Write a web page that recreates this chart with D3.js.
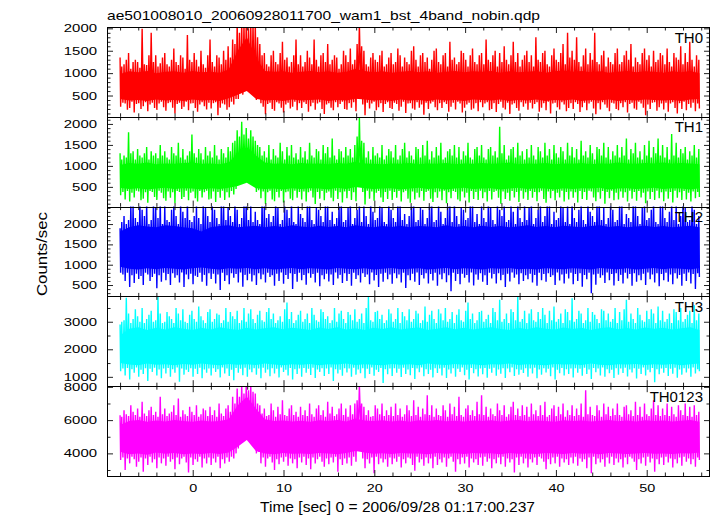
<!DOCTYPE html>
<html><head><meta charset="utf-8">
<script src="https://cdn.jsdelivr.net/npm/d3@7"></script>
<style>body{margin:0;background:#fff}svg{display:block}text{font-family:"Liberation Sans",Arial,Helvetica,sans-serif}</style>
</head><body><svg id="c" width="717" height="516"></svg>
<script>
// ---------- data (counts/sec) ----------
const titleText = "ae501008010_20060928011700_wam1_bst_4band_nobin.qdp";
const xLabel = "Time [sec] 0 = 2006/09/28 01:17:00.237";
const yLabel = "Counts/sec";
const panelNames = ["TH0", "TH1", "TH2", "TH3", "TH0123"];
const panelColors = ["#ff0000", "#00ff00", "#0000ff", "#00ffff", "#ff00ff"];
const yDomains = [[25, 2030], [30, 2170], [220, 2430], [660, 3920], [2640, 8040]];
const yTickLabels = [[500, 1000, 1500, 2000], [500, 1000, 1500, 2000], [500, 1000, 1500, 2000], [1000, 2000, 3000], [4000, 6000, 8000]];
const yMinorTicks = [
  [100,200,300,400,600,700,800,900,1100,1200,1300,1400,1600,1700,1800,1900],
  [100,200,300,400,600,700,800,900,1100,1200,1300,1400,1600,1700,1800,1900,2100],
  [300,400,600,700,800,900,1100,1200,1300,1400,1600,1700,1800,1900,2100,2200,2300,2400],
  [1500,2500,3500],
  [3000,5000,7000]
];
const xTickLabels = [0, 10, 20, 30, 40, 50];
const xMinorTicks = [-8,-6,-4,-2,2,4,6,8,12,14,16,18,22,24,26,28,32,34,36,38,42,44,46,48,52,54,56];
const timeStart = -8, timeEnd = 55.8;
const xDomain = [-9.44, 56.97];

// core band (1 s bins): upper / lower edge of the dense part
const th0CoreHi = [980,1040,1020,1050,1000,1030,1040,1010,1050,1020, 1030,1010,1080,1500,1800,1350,1050,1030,1040,1010, 1030,1050,1020,1040,1010,1030,1100,1050,1020,1040, 1010,1030,1050,1020,1040,1010,1030,1050,1020,1040, 1030,1050,1010,1040,1020,1030,1050,1010,1040,1060, 1030,1050,1020,1040,1010,1030,1050,1020,1040,1030, 1010,1040,1020,1050,1000];
const th0CoreLo = [420,390,400,380,410,390,400,380,410,390, 400,380,440,520,600,430,390,400,380,410, 390,400,410,380,400,390,430,410,390,400, 380,410,390,400,380,410,390,400,380,410, 400,390,410,380,400,390,410,380,400,390, 410,380,400,390,410,380,400,390,410,400, 390,400,380,410,420];
const th1CoreHi = [1020,1070,1050,1080,1040,1060,1050,1070,1080,1050, 1060,1040,1080,1300,1450,1250,1080,1050,1060,1040, 1070,1050,1060,1040,1070,1050,1100,1060,1050,1040, 1060,1050,1070,1040,1060,1050,1070,1040,1060,1050, 1070,1050,1060,1080,1040,1060,1050,1070,1040,1060, 1050,1070,1040,1060,1050,1080,1060,1050,1070,1060, 1080,1050,1070,1060,1040];
const th1CoreLo = [480,450,470,440,460,480,450,470,460,440, 470,450,480,520,600,470,450,460,440,470, 450,470,460,440,480,450,500,470,450,460, 470,440,460,480,450,470,440,460,480,450, 460,470,440,460,480,450,470,460,440,470, 450,470,460,480,440,460,470,450,460,480, 450,470,460,440,470];
const th2CoreHi = [1820,1920,1970,1940,1920,1970,1950,1920,1900,1820, 1920,1950,1970,1920,1940,1960,1920,1950,1930,1970, 1940,1920,1960,1930,1950,1920,1970,1940,1920,1950, 1930,1960,1920,1950,1940,1920,1970,1930,1950,1920, 1960,1930,1950,1920,1940,1970,1930,1950,1920,1960, 1940,1920,1950,1970,1930,1950,1920,1940,1960,1930, 1950,1920,1940,1960,1920];
const th2CoreLo = [950,900,880,910,890,920,900,880,910,930, 900,880,910,900,920,890,910,880,900,920, 890,910,900,880,920,900,890,910,880,900, 920,890,900,910,880,900,920,890,910,900, 880,910,900,920,890,900,880,910,900,890, 910,900,880,920,900,890,910,880,900,920, 890,910,900,880,920];
const th3CoreHi = [2500,2750,2800,2700,2780,2720,2800,2750,2700,2780, 2720,2800,2750,2700,2780,2720,2760,2800,2730,2780, 2750,2700,2790,2740,2800,2720,2760,2700,2780,2740, 2800,2720,2760,2790,2700,2750,2800,2730,2780,2720, 2760,2800,2740,2700,2780,2730,2800,2750,2720,2790, 2740,2780,2700,2760,2800,2730,2770,2720,2790,2750, 2780,2720,2760,2800,2700];
const th3CoreLo = [1500,1450,1420,1480,1440,1460,1420,1470,1440,1480, 1450,1420,1470,1440,1460,1430,1480,1450,1420,1460, 1440,1470,1420,1460,1450,1480,1430,1460,1440,1420, 1470,1440,1460,1420,1480,1450,1430,1470,1440,1460, 1420,1460,1450,1480,1430,1460,1440,1420,1470,1450, 1460,1430,1480,1440,1420,1460,1450,1470,1430,1460, 1440,1470,1420,1460,1480];
const th0123CoreHi = [5700,5950,6000,5900,5980,5920,6000,5950,5900,5980, 5920,5950,6050,6900,7400,6700,6050,5950,5980,5920, 5960,5900,5990,5940,6000,5920,6100,5980,5940,5990, 5920,5970,5900,5990,5940,6000,5930,5960,5910,5980, 5950,5990,5920,5970,6000,5930,5980,5940,5900,5990, 5940,5980,5920,5960,6000,5930,5970,5910,5990,5950, 5980,5920,5960,6000,5900];
const th0123CoreLo = [4100,3950,4000,3920,4050,3980,4020,3950,4000,3970, 4030,3960,4050,4400,4800,4150,4000,3950,4020,3980, 4000,3960,4030,3990,3950,4020,4150,4050,3980,4010, 3960,4030,3990,4000,3950,4020,3980,4010,3960,4030, 3990,4010,3950,4020,3980,4000,3960,4030,3990,3970, 4020,3980,4010,3950,4030,3990,3960,4000,4020,3980, 4000,3970,4010,3990,4050];

// extremes (0.25 s bins): max / min of each bin
const th0PeakHi = [
1350,1150,1200,1300,1450,1100,1250,1300,1250,1120,1990,1200,1180,1400,1900,1250,1400,1150,1220,1350,
1450,1200,1150,1300,1550,1250,1180,1400,1350,1100,1850,1300,1250,1450,1300,1150,1500,1200,1120,1400,
1750,1250,1150,1400,1350,1200,1500,1300,1600,1350,1750,1650,2100,1900,2100,2100,2100,2000,2100,2100,
2100,1800,1650,1400,1450,1200,1150,1400,1500,1250,1200,1450,1700,1300,1350,1150,1250,1400,1750,1200,
1400,1150,1250,1500,1350,1200,1750,1300,1150,1400,1450,1250,1650,1200,1300,1400,1350,1100,1200,1500,
1400,1250,1550,1200,1300,1650,2100,1600,1500,1200,1150,1350,1450,1300,1250,1400,1500,1150,1200,1350,
1450,1200,1250,1550,1400,1150,1350,1250,1200,1500,1600,1300,1150,1400,1450,1250,1350,1100,1300,1500,
1550,1250,1200,1400,1450,1150,1700,1300,1350,1200,1250,1500,1450,1300,1150,1400,1550,1250,1200,1400,
1450,1200,1750,1300,1250,1400,1500,1150,1450,1250,1600,1300,1200,1400,1700,1250,1450,1150,1300,1400,
1500,1250,1400,1150,1800,1300,1250,1450,1500,1200,1150,1400,1550,1300,1250,1450,1650,1200,1900,1350,
1500,1300,1800,1250,1150,1400,1550,1200,1450,1300,1900,1250,1200,1400,1500,1150,1350,1250,1200,1450,
1550,1200,1250,1400,1500,1300,1650,1150,1350,1250,1200,1450,1550,1300,1400,1150,1500,1250,1300,1450,
1400,1200,1550,1250,1150,1450,1350,1300,1600,1200,1450,1250,1700,1300,1150,1400,1300];
const th0PeakLo = [
250,340,320,180,220,360,120,310,330,200,260,350,150,300,340,220,180,320,360,240,
160,330,350,230,100,310,340,200,250,360,170,320,330,220,140,300,350,260,190,340,
210,330,350,60,230,320,300,180,240,360,300,420,420,550,520,620,600,680,580,520,
400,450,330,250,80,310,340,200,160,350,320,230,120,300,340,210,250,360,170,330,
220,350,310,140,260,340,180,320,350,200,90,300,330,230,170,350,240,310,360,200,
180,330,230,350,150,600,830,300,60,340,210,320,360,170,240,330,130,310,350,220,
200,340,310,160,250,360,110,320,330,210,180,350,230,300,70,340,200,320,360,240,
170,330,220,350,310,140,250,340,190,360,320,120,230,300,340,180,210,330,150,350,
240,320,350,170,200,330,130,310,360,230,190,340,90,300,330,220,160,350,250,320,
180,340,210,310,350,140,230,330,170,360,100,320,340,240,190,350,300,150,220,330,
200,350,310,130,240,340,170,320,360,210,80,330,190,350,300,230,150,340,320,200,
170,330,240,350,120,310,340,210,180,360,320,230,60,300,200,340,350,160,240,320,
190,340,140,320,350,220,100,330,200,360,170,310,230,340,150,320,210];

const th1PeakHi = [
1300,1150,1250,1200,1800,1300,1350,1150,1400,1250,1200,1300,1450,1150,1350,1250,1300,1180,1500,1250,
1350,1200,1150,1450,1300,1250,1550,1200,1400,1150,1250,1350,1750,1300,1200,1400,1300,1150,1450,1250,
1350,1200,1500,1250,1150,1400,1300,1200,1450,1350,1550,1600,1850,1700,2050,1750,1900,1650,1850,1700,
1600,1500,1450,1250,1350,1200,1500,1150,1400,1250,1200,1550,1350,1150,1450,1250,1500,1200,1300,1150,
1450,1200,1350,1150,1550,1250,1200,1400,1350,1150,1500,1300,1450,1200,1650,1250,1150,1400,1350,1200,
1450,1250,1400,1200,1500,1700,2150,1600,1550,1200,1350,1150,1450,1250,1300,1200,1500,1150,1250,1400,
1350,1200,1500,1150,1250,1400,1550,1200,1350,1250,1150,1450,1400,1200,1500,1250,1600,1150,1350,1200,
1450,1250,1550,1150,1200,1350,1400,1250,1500,1200,1450,1150,1350,1250,1550,1200,1150,1400,1450,1250,
1500,1200,1150,1400,1450,1250,1350,1200,1930,1300,1500,1150,1250,1400,1450,1200,1550,1250,1350,1150,
1400,1200,1500,1250,1150,1450,1350,1200,1550,1250,1400,1150,1500,1300,1200,1450,1350,1150,1550,1250,
1450,1200,1400,1150,1600,1250,1350,1200,1500,1300,1150,1450,1400,1250,1550,1200,1450,1150,1350,1250,
1500,1200,1450,1250,1650,1150,1400,1300,1550,1200,1350,1150,1500,1250,1600,1200,1450,1300,1650,1250,
1500,1200,1450,1150,1760,1250,1550,1200,1400,1300,1450,1150,1350,1250,1500,1200,1400];
const th1PeakLo = [
300,380,200,400,150,360,250,410,390,180,220,370,120,400,380,260,190,410,360,230,
170,390,240,370,110,400,380,210,260,410,180,360,390,230,150,400,250,370,410,200,
220,390,140,380,240,410,190,370,250,400,320,450,550,620,650,720,700,760,600,550,
380,420,230,390,100,370,410,200,160,380,250,400,130,370,390,220,180,410,240,380,
200,390,150,370,410,250,90,380,220,400,180,360,390,240,160,410,210,370,130,390,
230,400,190,370,160,600,790,380,80,410,220,390,170,360,400,250,140,380,210,410,
190,380,240,400,150,370,410,220,120,390,200,360,250,400,170,380,410,220,140,370,
240,390,180,410,110,370,230,400,380,200,160,390,250,360,130,400,210,380,190,410,
230,370,150,400,200,380,410,240,100,390,210,360,170,400,250,380,140,410,220,370,
190,400,240,380,160,370,410,210,120,390,230,400,180,360,250,410,150,380,200,390,
240,370,130,400,210,380,190,410,390,250,160,370,220,400,100,380,230,410,180,360,
200,390,240,370,150,410,220,380,170,400,250,360,110,390,210,380,190,410,230,370,
160,390,220,380,130,410,240,370,190,400,200,360,150,390,230,380,260];

const th2PeakHi = [
1900,2050,2200,2000,2100,2500,2450,2150,2050,2600,2350,2200,2500,2000,2100,2550,2400,2150,2600,2000,
2450,2100,2050,2350,2550,2200,2000,2500,2300,2150,2600,2100,2050,2200,2450,2150,2000,2550,2400,2200,
2050,2500,2350,2150,2000,2600,2450,2100,2400,2200,2050,2550,2350,2000,2150,2500,2600,2100,2450,2050,
2300,2100,2000,2550,2450,2150,2250,2050,2200,2600,2400,2000,2100,2500,2350,2150,2550,2050,2000,2450,
2250,2150,2050,2500,2600,2100,2000,2400,2350,2200,2050,2550,2450,2100,2300,2000,2150,2500,2600,2050,
2100,2400,2550,2000,2150,2350,2500,2050,2450,2200,2000,2600,2300,2100,2150,2500,2400,2050,2000,2550,
2350,2150,2050,2600,2450,2100,2250,2000,2200,2500,2550,2050,2100,2400,2350,2000,2150,2600,2450,2050,
2100,2500,2300,2000,2150,2550,2450,2050,2600,2200,2000,2400,2350,2100,2150,2500,2550,2050,2250,2000,
2450,2150,2050,2600,2400,2100,2000,2500,2350,2200,2550,2050,2100,2450,2300,2000,2600,2150,2050,2500,
2100,2400,2550,2000,2150,2350,2500,2050,2200,2600,2450,2000,2300,2100,2150,2550,2400,2050,2500,2000,
2600,2150,2050,2350,2450,2100,2000,2550,2300,2200,2050,2500,2600,2100,2400,2000,2150,2450,2350,2050,
2100,2550,2450,2000,2250,2150,2050,2600,2500,2200,2000,2400,2550,2100,2150,2350,2600,2050,2000,2450,
2500,2150,2050,2300,2550,2100,2450,2000,2200,2600,2400,2050,2100,2500,2350,2000,2200];
const th2PeakLo = [
800,760,600,800,450,740,550,780,650,720,500,800,760,600,700,780,420,740,580,800,
620,770,500,790,680,740,560,810,450,760,640,780,520,730,700,800,580,750,480,790,
650,780,540,760,380,800,600,740,520,790,680,770,560,810,460,750,620,780,590,740,
500,790,640,760,560,800,700,740,480,780,600,810,530,750,650,790,400,770,580,800,
620,750,510,790,680,770,560,800,470,740,640,780,590,760,500,810,660,750,550,790,
600,770,480,800,650,740,560,790,700,760,520,810,610,750,450,780,580,800,640,760,
530,790,670,760,560,800,430,740,620,780,580,810,500,750,660,790,540,770,610,800,
480,760,640,790,570,740,350,800,600,770,520,780,680,750,560,810,490,760,630,790,
580,740,500,800,660,770,540,790,620,750,450,780,590,810,680,760,520,790,600,740,
640,780,560,750,480,800,620,770,580,790,700,740,500,810,610,760,540,780,660,800,
520,770,600,790,460,750,640,800,300,760,510,780,680,740,550,810,620,770,490,790,
600,750,540,800,660,770,480,790,580,740,620,780,500,810,640,760,560,790,470,770,
620,800,580,760,520,790,660,750,480,780,600,810,540,770,400,790,700];

const th3PeakHi = [
2900,3000,3050,3870,3300,2950,3100,3450,3200,3000,3500,2950,3100,3250,3400,3000,3050,3900,3300,2950,
3000,3350,3200,3100,2950,3500,3300,3050,3450,3000,2950,3250,3400,3100,3000,3550,3200,3050,2950,3350,
3450,3000,3100,3300,3250,2950,3050,3500,3000,3350,3200,3100,3400,2950,3050,3500,3000,3300,3450,3100,
2950,3250,3400,3050,3000,3350,3500,3100,3300,2950,3050,3200,3000,3450,3700,3100,3350,2950,3050,3250,
3400,3000,3100,3300,2950,3500,3250,3050,3000,3450,3350,3100,3200,2950,3050,3500,3000,3300,3400,3100,
2950,3350,3250,3050,3450,3000,3100,3300,2950,3500,3920,3050,3000,3350,3400,3100,3250,2950,3050,3450,
3300,3000,3100,3500,2950,3350,3200,3050,3450,3000,3100,3400,3300,2950,3050,3550,3000,3250,3400,3100,
2950,3450,3300,3050,3500,3000,3100,3350,2950,3250,3450,3050,3000,3400,3700,3100,3300,2950,3050,3350,
3400,3000,3100,3250,2950,3500,3350,3050,3800,3000,3100,3300,2950,3450,3350,3050,3920,3000,3100,3400,
2950,3300,3450,3050,3000,3350,3100,3500,3250,2950,3400,3050,3550,3000,3100,3300,2950,3450,3350,3050,
3850,3000,3100,3400,3300,2950,3050,3500,3000,3350,3250,3100,2950,3450,3400,3050,3300,3000,3100,3500,
2950,3350,3050,3450,3800,3000,3300,3100,2950,3500,3250,3050,3000,3400,3100,3450,3300,2950,3550,3050,
3400,3000,3100,3300,2950,3450,3350,3050,3500,3000,3100,3250,3400,2950,3600,3050,3300];
const th3PeakLo = [
1200,1300,1050,1320,900,1280,1150,1340,1000,1260,1100,1310,850,1290,1180,1330,1050,1270,950,1300,
1120,1320,1000,1280,1150,1340,820,1300,1080,1260,1180,1310,1000,1290,1100,1330,950,1270,1150,1300,
1050,1310,1180,1280,980,1340,1120,1300,1030,1260,880,1320,1150,1290,1060,1330,1000,1270,1170,1310,
1080,1300,950,1330,1150,1270,1020,1310,1120,1290,980,1340,1180,1260,1050,1320,900,1280,1100,1300,
1000,1320,1150,1290,1070,1330,960,1270,1180,1310,1030,1300,1100,1340,850,1280,1120,1260,1040,1310,
1160,1300,1000,1330,1080,1270,1130,1310,950,1290,1100,1340,1040,1260,1180,1320,780,1280,1090,1300,
1030,1310,1150,1290,990,1330,1100,1270,1060,1320,920,1300,1170,1340,1020,1280,1100,1260,980,1310,
1140,1300,1050,1330,960,1270,1120,1310,1000,1290,1180,1340,1060,1260,900,1320,1130,1280,1010,1300,
1090,1320,970,1290,1150,1330,1040,1270,1110,1310,960,1300,1170,1340,1030,1280,1080,1260,1140,1310,
1000,1300,1120,1330,950,1270,1080,1310,1160,1290,1020,1340,900,1260,1130,1320,1050,1280,1100,1300,
980,1310,1150,1290,1040,1330,1100,1270,920,1320,1170,1300,1050,1340,1000,1280,1130,1260,960,1310,
1080,1300,1140,1330,1010,1270,1160,1310,940,1290,1100,1340,1050,1260,1170,1320,800,1280,1090,1300,
1150,1320,1030,1290,1110,1330,970,1270,1080,1310,1160,1300,1000,1340,1120,1280,1200];

const th0123PeakHi = [
6300,6200,6600,6350,6250,6900,6500,6300,6700,6200,7100,6400,6250,6600,6800,6300,6500,6200,7400,6350,
6700,6250,6400,6500,6900,6300,7300,6200,6600,6350,6250,6800,6500,6300,6900,6200,6350,6700,6600,6250,
6800,6300,6600,6200,7000,6400,6250,6700,6900,6500,7400,7000,7900,7400,8100,7600,8100,7800,8100,7700,
7600,7000,6900,6400,6700,6250,6300,7000,6600,6200,6800,6350,7200,6300,6250,6700,6900,6300,6500,6200,
6800,6300,6600,6250,7000,6350,6200,6700,6900,6300,6600,6200,7100,6400,6800,6250,6350,6700,7000,6300,
6700,6200,6900,6350,7000,7200,8100,7000,6800,6300,6600,6200,6250,6900,6700,6350,7000,6250,6600,6300,
6800,6250,7000,6300,6700,6200,6350,6900,6600,6250,7200,6300,6800,6200,6700,6350,7500,6300,6900,6200,
6700,6300,6250,6900,6600,6200,7000,6350,6800,6250,7400,6300,6200,6700,6900,6300,6600,6250,7100,6350,
7500,6300,6800,6200,6700,6350,6250,7000,6600,6300,6900,6200,6350,6800,7100,6300,6700,6250,6900,6300,
6800,6200,7000,6350,6600,6250,6900,6300,7100,6200,6300,6700,6900,6250,6800,6350,7000,6200,6600,6300,
6900,6250,6700,6300,7000,6200,7800,6350,6800,6300,6250,6900,6600,6200,7000,6350,6800,6250,6700,6300,
7000,6300,6200,6800,6900,6350,6600,6250,7100,6300,6800,6200,7000,6350,6250,6700,7200,6300,6900,6250,
6700,6300,7000,6250,6800,6350,6200,6900,6600,6300,7000,6250,6800,6200,6900,6300,6500];
const th0123PeakLo = [
3600,3750,3000,3700,3400,3800,3650,3200,3500,3750,2900,3700,3300,3800,3450,3650,3100,3750,3400,3700,
3250,3800,3500,3650,3050,3750,3350,3700,3800,3450,2850,3750,3300,3650,3500,3800,3150,3700,3400,3750,
3300,3700,3450,3800,3100,3650,3400,3750,3500,3800,3700,4000,4300,4700,4900,5100,5000,5100,4700,4500,
4000,4100,3400,3750,3200,3700,3800,3450,3000,3650,3350,3750,3500,3800,3250,3700,3400,3650,3100,3750,
3450,3800,3300,3700,3050,3750,3400,3650,3800,3500,3200,3700,3350,3750,3450,3800,2900,3650,3300,3700,
3400,3750,3250,3800,3500,5000,5900,3700,3100,3650,3400,3750,2800,3800,3350,3700,3450,3650,3200,3750,
3350,3700,3500,3800,3150,3650,3400,3750,3700,3300,2950,3800,3450,3650,3250,3750,3400,3700,3100,3800,
3300,3650,3450,3750,3200,3700,3800,3500,2900,3650,3350,3750,3400,3800,3150,3700,3450,3650,3300,3750,
3250,3800,3500,3700,3100,3650,3400,3750,3350,3800,3200,3700,3450,3650,2850,3750,3300,3800,3400,3700,
3150,3650,3450,3750,3300,3800,3700,3500,3050,3650,3350,3750,3400,3800,3200,3700,3450,3650,3300,3750,
3400,3800,3250,3700,3500,3650,3100,3750,2800,3800,3350,3700,3450,3650,3200,3750,3400,3800,3300,3700,
3450,3650,3150,3750,3350,3800,3700,3500,3000,3650,3400,3750,3250,3800,3450,3700,2900,3650,3350,3750,
3300,3800,3450,3700,3150,3650,3400,3750,3250,3800,3500,3700,3350,3650,3200,3750,3600];

const coreHi = [th0CoreHi, th1CoreHi, th2CoreHi, th3CoreHi, th0123CoreHi];
const coreLo = [th0CoreLo, th1CoreLo, th2CoreLo, th3CoreLo, th0123CoreLo];
const peakHi = [th0PeakHi, th1PeakHi, th2PeakHi, th3PeakHi, th0123PeakHi];
const peakLo = [th0PeakLo, th1PeakLo, th2PeakLo, th3PeakLo, th0123PeakLo];

// ---------- drawing ----------
const svg = d3.select("#c");
svg.append("rect").attr("width", 717).attr("height", 516).attr("fill", "#fff");
const L = 107, R = 710, T = 27, B = 476;
const PH = (B - T) / 5;
const x = d3.scaleLinear().domain(xDomain).range([L, R]);
const FONT = '"Liberation Sans",Arial,Helvetica,sans-serif';

svg.append("text").attr("x", 107).attr("y", 19.5).attr("font-size", 13)
  .attr("textLength", 433).attr("lengthAdjust", "spacingAndGlyphs")
  .attr("fill", "#000").text(titleText);

function styleAxis(g, fs, charW) {
  g.select(".domain").remove();
  g.attr("font-family", null).attr("font-size", null);
  g.selectAll(".tick line").attr("stroke", "#222").attr("stroke-width", 1);
  g.selectAll("text").attr("font-size", fs).attr("fill", "#000").attr("font-family", FONT)
    .each(function () {
      const s = this.textContent;
      if (s && charW) d3.select(this).attr("textLength", s.length * charW).attr("lengthAdjust", "spacingAndGlyphs");
    });
}

panelNames.forEach((name, k) => {
  const y0 = T + k * PH, y1 = y0 + PH;
  const y = d3.scaleLinear().domain(yDomains[k]).range([y1, y0]);
  const color = panelColors[k];

  const clipId = "clip" + k;
  svg.append("clipPath").attr("id", clipId).append("rect")
    .attr("x", L).attr("y", y0).attr("width", R - L).attr("height", PH);
  const g = svg.append("g").attr("clip-path", `url(#${clipId})`);

  // dense core band
  const nc = coreHi[k].length;
  const cpts = coreHi[k].map((v, i) => [timeStart + i * (timeEnd - timeStart) / (nc - 1), v, coreLo[k][i]]);
  g.append("path").datum(cpts)
    .attr("d", d3.area().x(d => x(d[0])).y0(d => y(d[2])).y1(d => y(d[1])))
    .attr("fill", color);

  // min/max trace of every bin
  const n = peakHi[k].length, dt = (timeEnd - timeStart) / (n - 1);
  const zz = [];
  for (let i = 0; i < n; i++) {
    const t = timeStart + i * dt;
    zz.push([Math.max(timeStart, t - dt / 4), peakHi[k][i]]);
    zz.push([Math.min(timeEnd, t + dt / 4), peakLo[k][i]]);
  }
  g.append("path").datum(zz)
    .attr("d", d3.line().x(d => x(d[0])).y(d => y(d[1])))
    .attr("fill", "none").attr("stroke", color).attr("stroke-width", 1.4)
    .attr("stroke-linejoin", "bevel");

  // y axes
  const gl = svg.append("g").attr("transform", `translate(${L},0)`)
    .call(d3.axisLeft(y).tickValues(yTickLabels[k]).tickSizeInner(-6).tickSizeOuter(0).tickPadding(10).tickFormat(d3.format("d")));
  styleAxis(gl, 11, 8.3);
  const glm = svg.append("g").attr("transform", `translate(${L},0)`)
    .call(d3.axisLeft(y).tickValues(yMinorTicks[k]).tickSizeInner(-3.5).tickSizeOuter(0).tickFormat(""));
  styleAxis(glm);
  const gr = svg.append("g").attr("transform", `translate(${R},0)`)
    .call(d3.axisRight(y).tickValues(yTickLabels[k]).tickSizeInner(-6).tickSizeOuter(0).tickFormat(""));
  styleAxis(gr);
  const grm = svg.append("g").attr("transform", `translate(${R},0)`)
    .call(d3.axisRight(y).tickValues(yMinorTicks[k]).tickSizeInner(-3.5).tickSizeOuter(0).tickFormat(""));
  styleAxis(grm);

  // x axes (top & bottom of each panel)
  const gb = svg.append("g").attr("transform", `translate(0,${y1})`)
    .call(d3.axisBottom(x).tickValues(xTickLabels).tickSizeInner(-6).tickSizeOuter(0).tickPadding(7.5)
      .tickFormat(k === 4 ? d3.format("d") : ""));
  styleAxis(gb, 11.5, 8.0);
  const gbm = svg.append("g").attr("transform", `translate(0,${y1})`)
    .call(d3.axisBottom(x).tickValues(xMinorTicks).tickSizeInner(-3.5).tickSizeOuter(0).tickFormat(""));
  styleAxis(gbm);
  const gt = svg.append("g").attr("transform", `translate(0,${y0})`)
    .call(d3.axisTop(x).tickValues(xTickLabels).tickSizeInner(-6).tickSizeOuter(0).tickFormat(""));
  styleAxis(gt);
  const gtm = svg.append("g").attr("transform", `translate(0,${y0})`)
    .call(d3.axisTop(x).tickValues(xMinorTicks).tickSizeInner(-3.5).tickSizeOuter(0).tickFormat(""));
  styleAxis(gtm);

  // panel frame
  svg.append("rect").attr("x", L + 0.5).attr("y", Math.round(y0) + 0.5)
    .attr("width", R - L - 1).attr("height", Math.round(y1) - Math.round(y0))
    .attr("fill", "none").attr("stroke", "#000").attr("stroke-width", 1);

  // panel label
  svg.append("text").attr("x", 703).attr("y", y0 + 15.6).attr("text-anchor", "end")
    .attr("font-size", 15).attr("fill", "#000").text(name);
});

svg.append("text").attr("x", 260).attr("y", 511.5)
  .attr("font-size", 14.5).attr("textLength", 275).attr("lengthAdjust", "spacingAndGlyphs")
  .attr("fill", "#000").text(xLabel);
svg.append("text").attr("transform", "translate(47,254) rotate(-90)").attr("text-anchor", "middle")
  .attr("font-size", 14.5).attr("textLength", 84).attr("lengthAdjust", "spacingAndGlyphs")
  .attr("fill", "#000").text(yLabel);
</script>
</body></html>
